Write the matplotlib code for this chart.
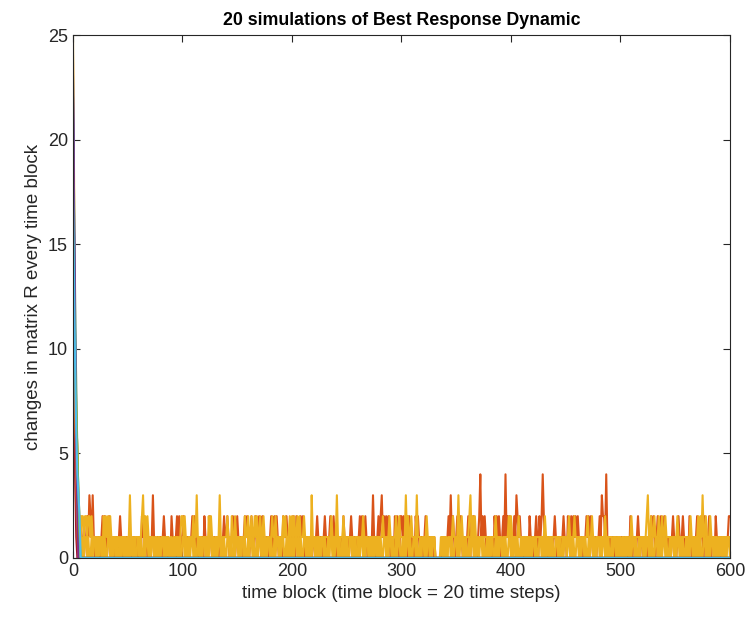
import numpy as np
import matplotlib
matplotlib.use("Agg")
import matplotlib.pyplot as plt

plt.rcParams['font.family'] = ['Liberation Sans', 'DejaVu Sans']

# MATLAB default colour order
colours = ['#0072BD', '#D95319', '#EDB120', '#7E2F8E', '#77AC30', '#4DBEEE', '#A2142F']

n_blocks = 600

# series that settle to zero after a few blocks (values for t=0,1,2,...)
decay_heads = {
    1: [20, 13, 8, 5, 3, 1, 0],
    4: [22, 16, 9, 4, 2, 0],
    5: [19, 14, 10, 7, 4, 2, 1, 0],
    6: [23, 17, 12, 8, 5, 3, 1, 0],
    7: [17, 10, 5, 2, 1, 0],
    8: [16, 11, 7, 4, 2, 0],
    9: [21, 14, 8, 4, 2, 1, 0],
    11: [22, 15, 9, 5, 3, 1, 0],
    12: [14, 10, 7, 5, 3, 1, 0],
    13: [18, 12, 8, 5, 3, 2, 0],
    14: [15, 9, 4, 1, 0],
    15: [21, 15, 10, 6, 3, 1, 0],
    16: [19, 12, 7, 3, 1, 0],
    17: [20, 13, 8, 5, 2, 1, 0],
    18: [23, 16, 10, 5, 2, 0],
    19: [17, 12, 9, 7, 5, 3, 1, 0],
    20: [18, 13, 9, 6, 4, 3, 2, 0],
}

# the series that keep changing (base-36 digits, one per time block, t=0..600)
orange_rows = [
    "ohb75212110112132131010110121210121101011012101101",
    "10110110101102121101101311010110121011002101121210",
    "12101101121210110110211012101101101101211210112101",
    "21011012121012101211210211011012102121011021121011",
    "12102101212101101101101210110121011211210110110210",
    "11012101101121211210101131011212312121210110212102",
    "21211012101102121011012101101010000001011012131210",
    "12112101101210212110124121210110110212121012141212",
    "10121321210110110211011210212421011011012101101121",
    "10211212121210110112121210110112132214101101101101",
    "01011011021011012101101101012121012102112110110121",
    "10121012101102101101210121021112101102110110110112",
    "2",
]
yellow_rows = [
    "pic85221221221221211101101102121212110110110110110",
    "11310101110112312121011101101101110110001011011012",
    "21211011112113101101111021211010113101111211021021",
    "11101102112112112121121121101101211211101121211121",
    "21211212111211011031110111011111110121111310111211",
    "01111110111011121111011111101111121111121101121121",
    "11113121121111311101111211011110000001111101111211",
    "11311211011123121211011111111011011121111101111121",
    "21110112111101111110111111111112110111111111011111",
    "11121111211111011111211121101111111121111110111011",
    "10110110112111111111111123112112111211211211111111",
    "11211111111111211111121213112111211111101101111111",
    "1",
]
yellow2_rows = [
    "ifa75321010110100101101011010100110101101001011010",
    "01011010011010010110101101001001101011010010110100",
    "11010010110100110101101001101001011010100110100101",
    "10101101001011010010110101001101001011010110010101",
    "01011010100110100101101010011010010110101101001010",
    "10011010100101101011001010110101001101011010010110",
    "01010110100110100101101011010110000011010101101001",
    "10101101010010110101101101001010110010101101010011",
    "01011010010110101010110100110101011010100110100101",
    "10110101001101011010010110100110101101010010110101",
    "00101011010110100101101011010100110101011010010110",
    "10110101001010110101010100110101011010100110101011",
    "0",
]


def decode(rows):
    return [int(c, 36) for c in "".join(rows)]


series = {}
for k, head in decay_heads.items():
    series[k] = head + [0] * (n_blocks + 1 - len(head))
series[2] = decode(orange_rows)
series[3] = decode(yellow_rows)
series[10] = decode(yellow2_rows)

t = np.arange(n_blocks + 1)

fig = plt.figure(figsize=(7.47, 6.22), dpi=100)
ax = fig.add_axes([0.0977, 0.1029, 0.8795, 0.8408])

for k in range(1, 21):
    ax.plot(t, series[k], color=colours[(k - 1) % 7], linewidth=1.5)

ax.set_xlim(0, 600)
ax.set_ylim(0, 25)
ax.set_xticks([0, 100, 200, 300, 400, 500, 600])
ax.set_yticks([0, 5, 10, 15, 20, 25])

grey = '#262626'
for s in ax.spines.values():
    s.set_color(grey)
    s.set_linewidth(0.8)
ax.tick_params(direction='in', top=True, right=True, colors=grey,
               labelsize=13, length=5, width=0.8)

ax.set_title('20 simulations of Best Response Dynamic', fontsize=12.8,
             fontweight='bold', color='black', pad=7)
ax.set_xlabel('time block (time block = 20 time steps)', fontsize=13.5, color=grey)
ax.set_ylabel('changes in matrix R every time block', fontsize=13.5, color=grey)

fig.savefig('out.png', dpi=100)
